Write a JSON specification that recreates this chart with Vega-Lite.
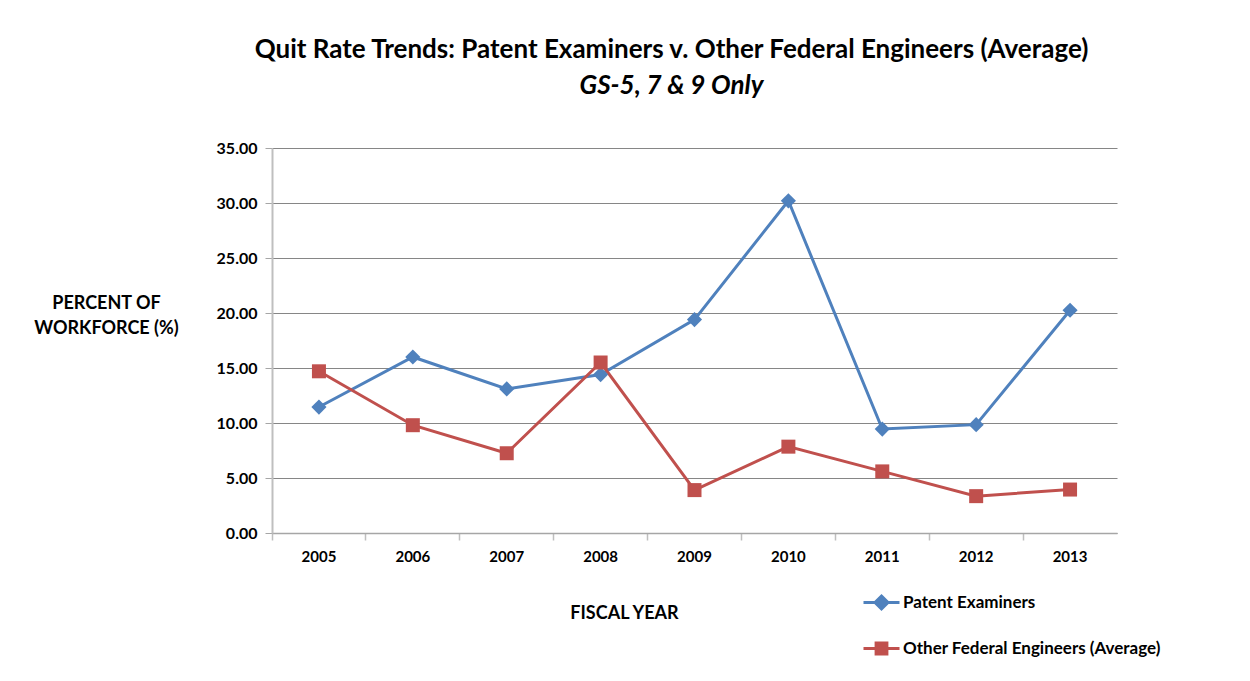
{
  "$schema": "https://vega.github.io/schema/vega-lite/v6.json",
  "width": 845,
  "height": 385,
  "autosize": "none",
  "padding": {"left": 272, "top": 148, "right": 133, "bottom": 148},
  "background": "white",
  "title": {
    "text": "Quit Rate Trends: Patent Examiners v. Other Federal Engineers (Average)",
    "subtitle": "GS-5, 7 & 9 Only",
    "anchor": "middle",
    "dx": -23,
    "offset": 41,
    "font": "Lato",
    "fontSize": 26,
    "fontWeight": "bold",
    "color": "black",
    "subtitleFont": "Lato",
    "subtitleFontSize": 26,
    "subtitleFontWeight": "bold",
    "subtitleFontStyle": "italic",
    "subtitleColor": "black",
    "subtitlePadding": 10
  },
  "data": {
    "values": [
      {"year": "2005", "series": "Patent Examiners", "rate": 11.45},
      {"year": "2006", "series": "Patent Examiners", "rate": 16.0},
      {"year": "2007", "series": "Patent Examiners", "rate": 13.1},
      {"year": "2008", "series": "Patent Examiners", "rate": 14.4},
      {"year": "2009", "series": "Patent Examiners", "rate": 19.4},
      {"year": "2010", "series": "Patent Examiners", "rate": 30.2},
      {"year": "2011", "series": "Patent Examiners", "rate": 9.45},
      {"year": "2012", "series": "Patent Examiners", "rate": 9.85},
      {"year": "2013", "series": "Patent Examiners", "rate": 20.25},
      {"year": "2005", "series": "Other Federal Engineers (Average)", "rate": 14.7},
      {"year": "2006", "series": "Other Federal Engineers (Average)", "rate": 9.8},
      {"year": "2007", "series": "Other Federal Engineers (Average)", "rate": 7.25},
      {"year": "2008", "series": "Other Federal Engineers (Average)", "rate": 15.5},
      {"year": "2009", "series": "Other Federal Engineers (Average)", "rate": 3.9},
      {"year": "2010", "series": "Other Federal Engineers (Average)", "rate": 7.85},
      {"year": "2011", "series": "Other Federal Engineers (Average)", "rate": 5.6},
      {"year": "2012", "series": "Other Federal Engineers (Average)", "rate": 3.35},
      {"year": "2013", "series": "Other Federal Engineers (Average)", "rate": 3.95}
    ]
  },
  "encoding": {
    "x": {
      "field": "year",
      "type": "ordinal",
      "scale": {"type": "band", "paddingInner": 0, "paddingOuter": 0},
      "axis": {
        "title": "FISCAL YEAR",
        "titleFont": "Lato",
        "titleFontSize": 18,
        "titleFontWeight": "bold",
        "titleColor": "black",
        "titleAngle": 0,
        "titleX": 352,
        "titleY": 80,
        "titleAlign": "center",
        "titleBaseline": "middle",
        "labelAngle": 0,
        "labelFont": "Lato",
        "labelFontSize": 15,
        "labelFontWeight": "bold",
        "labelColor": "black",
        "labelPadding": 9,
        "bandPosition": 0,
        "ticks": true,
        "tickSize": 7,
        "tickColor": "#BFBFBF",
        "tickWidth": 1.5,
        "domain": true,
        "domainColor": "#A6A6A6",
        "domainWidth": 1.5,
        "grid": false
      }
    },
    "y": {
      "field": "rate",
      "type": "quantitative",
      "scale": {"domain": [0, 35], "nice": false},
      "axis": {
        "title": ["PERCENT OF", "WORKFORCE (%)"],
        "titleFont": "Lato",
        "titleFontSize": 18,
        "titleFontWeight": "bold",
        "titleColor": "black",
        "titleAngle": 0,
        "titleX": -166,
        "titleY": 146,
        "titleAlign": "center",
        "titleBaseline": "top",
        "titleLineHeight": 25,
        "values": [0, 5, 10, 15, 20, 25, 30, 35],
        "format": ".2f",
        "labelFont": "Lato",
        "labelFontSize": 16,
        "labelFontWeight": "bold",
        "labelColor": "black",
        "labelPadding": 8,
        "tickSize": 7,
        "tickColor": "#A6A6A6",
        "tickWidth": 1,
        "domain": true,
        "domainColor": "#BFBFBF",
        "domainWidth": 2,
        "grid": true,
        "gridColor": "#868686",
        "gridWidth": 1
      }
    },
    "color": {
      "field": "series",
      "type": "nominal",
      "scale": {
        "domain": ["Patent Examiners", "Other Federal Engineers (Average)"],
        "range": ["#4F81BD", "#C0504D"]
      },
      "legend": {
        "title": null,
        "orient": "none",
        "legendX": 590,
        "legendY": 435,
        "padding": 0,
        "rowPadding": 14,
        "symbolSize": 1296,
        "symbolStrokeWidth": 3,
        "labelOffset": 2,
        "labelLimit": 0,
        "labelFont": "Lato",
        "labelFontSize": 17,
        "labelFontWeight": "bold",
        "labelColor": "black",
        "encode": {
          "symbols": {
            "update": {
              "shape": {"signal": "datum.value === 'Patent Examiners' ? 'M-1,0H1M0,-0.36L0.36,0L0,0.36L-0.36,0Z' : 'M-1,0H1M-0.3,-0.3H0.3V0.3H-0.3Z'"},
              "stroke": {"signal": "scale('color', datum.value)"},
              "fill": {"signal": "scale('color', datum.value)"},
              "opacity": {"value": 1},
              "strokeWidth": {"value": 3},
              "size": {"value": 1296}
            }
          }
        }
      }
    }
  },
  "layer": [
    {
      "mark": {"type": "line", "strokeWidth": 3}
    },
    {
      "transform": [{"filter": "datum.series === 'Patent Examiners'"}],
      "mark": {"type": "point", "filled": true, "opacity": 1, "shape": "diamond", "size": 230}
    },
    {
      "transform": [{"filter": "datum.series !== 'Patent Examiners'"}],
      "mark": {"type": "point", "filled": true, "opacity": 1, "shape": "square", "size": 196}
    }
  ],
  "config": {
    "view": {"stroke": null}
  }
}
